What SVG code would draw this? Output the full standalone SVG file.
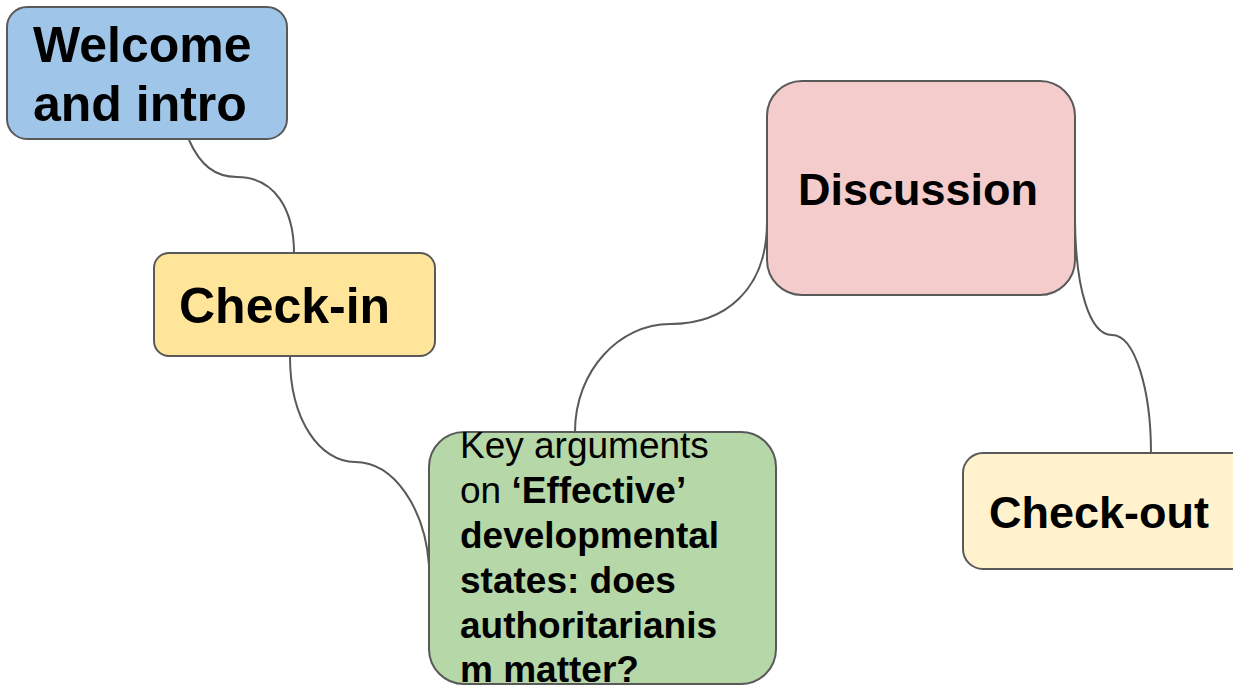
<svg xmlns="http://www.w3.org/2000/svg" width="1233" height="686" viewBox="0 0 1233 686">
<style>
.box{stroke:#595959;stroke-width:2}
.conn{fill:none;stroke:#595959;stroke-width:2}
text{font-family:"Liberation Sans",Arial,sans-serif;fill:#000}
.b{font-weight:bold}
</style>
<rect width="1233" height="686" fill="#fff"/>
<g id="connectors">
<path class="conn" d="M189,140 C200,165 215,177 237,177 C275,177 294,210 294,253"/>
<path class="conn" d="M290,357 C290,420 320,462 355,462 C395,462 425,510 429,565"/>
<path class="conn" d="M575,432 C575,370 620,324 670,324 C725,324 767,290 767,222"/>
<path class="conn" d="M1075,215 C1075,290 1090,335 1112,335 C1135,335 1151,390 1151,453"/>
</g>
<g id="welcome">
<rect class="box" x="7" y="7" width="280" height="132" rx="20" fill="#9fc5e8"/>
<text class="b" x="33" y="62" font-size="50">Welcome</text>
<text class="b" x="33" y="121" font-size="50">and intro</text>
</g>
<g id="checkin">
<rect class="box" x="154" y="253" width="281" height="103" rx="15" fill="#ffe599"/>
<text class="b" x="179" y="323" font-size="50">Check-in</text>
</g>
<g id="discussion">
<rect class="box" x="767" y="81" width="308" height="214" rx="35" fill="#f4cccc"/>
<text class="b" x="918" y="205" font-size="45" text-anchor="middle">Discussion</text>
</g>
<g id="checkout">
<rect class="box" x="963" y="453" width="290" height="116" rx="20" fill="#fff2cc"/>
<text class="b" x="989" y="528" font-size="45">Check-out</text>
</g>
<g id="key-arguments">
<rect class="box" x="429" y="432" width="347" height="252" rx="35" fill="#b6d7a8"/>
<text font-size="37">
<tspan x="460" y="458">Key arguments</tspan>
<tspan x="460" y="503">on <tspan class="b">‘Effective’</tspan></tspan>
<tspan class="b" x="460" y="548">developmental</tspan>
<tspan class="b" x="460" y="593">states: does</tspan>
<tspan class="b" x="460" y="638">authoritarianis</tspan>
<tspan class="b" x="460" y="682">m matter?</tspan>
</text>
</g>
</svg>
